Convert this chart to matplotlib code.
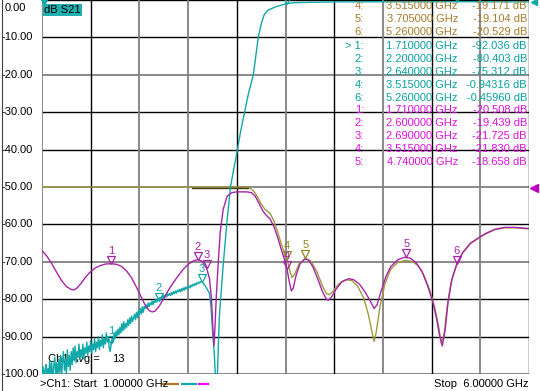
import numpy as np
import matplotlib
matplotlib.use('Agg')
import matplotlib.pyplot as plt
import matplotlib.transforms as mtransforms

plt.rcParams['font.family'] = ['Liberation Sans', 'DejaVu Sans']

W, H = 540, 391

# olive trace (displayed dB, -50 dB offset)
olive_f = [1.00, 2.54, 3.10, 3.13, 3.17, 3.21, 3.25, 3.29, 3.34, 3.38, 3.42, 3.46, 3.50, 3.515, 3.55,
           3.57, 3.60, 3.64, 3.705, 3.76, 3.82, 3.88, 3.92, 3.95, 3.99, 4.05, 4.12, 4.18, 4.24, 4.30,
           4.35, 4.39, 4.41, 4.43, 4.47, 4.52, 4.58, 4.65, 4.73, 4.80, 4.86, 4.92, 4.98, 5.03, 5.07,
           5.10, 5.13, 5.16, 5.20, 5.26, 5.32, 5.40, 5.47, 5.55, 5.65, 5.75, 5.85, 5.95, 6.00]
olive_db = [-50.0, -50.0, -50.0, -50.2, -51.0, -52.5, -54.5, -56.0, -57.0, -59.0, -62.0, -65.5, -68.5, -69.2, -73.0,
            -74.2, -73.0, -70.5, -69.1, -69.8, -72.5, -76.5, -78.5, -78.8, -77.8, -75.8, -74.8, -75.0, -76.5, -79.5,
            -84.0, -89.0, -91.3, -89.0, -82.0, -76.0, -72.0, -70.2, -69.6, -69.9, -71.0, -73.5, -77.5, -82.0, -87.0,
            -91.8, -89.0, -82.0, -75.5, -70.5, -67.6, -65.1, -63.9, -62.6, -61.4, -60.9, -60.9, -61.1, -61.2]

# dark segment under the olive trace
dark_f = [2.54, 3.12]
dark_db = [-50.3, -50.3]

# magenta trace (displayed dB, -50 dB offset)
mag_f = [1.00, 1.05, 1.10, 1.15, 1.20, 1.25, 1.30, 1.33, 1.36, 1.40, 1.45, 1.50, 1.55, 1.60, 1.65,
         1.71, 1.77, 1.82, 1.87, 1.92, 1.97, 2.02, 2.06, 2.10, 2.13, 2.16, 2.20, 2.25, 2.30, 2.35,
         2.40, 2.45, 2.50, 2.55, 2.60, 2.64, 2.69, 2.72, 2.74, 2.755, 2.765, 2.775, 2.79, 2.81, 2.83,
         2.86, 2.90, 2.95, 3.00, 3.10, 3.15, 3.19, 3.23, 3.27, 3.30, 3.34, 3.38, 3.42, 3.46, 3.50,
         3.515, 3.54, 3.56, 3.58, 3.61, 3.65, 3.70, 3.74, 3.78, 3.83, 3.88, 3.92, 3.94, 3.97, 4.02,
         4.08, 4.15, 4.20, 4.26, 4.32, 4.37, 4.41, 4.44, 4.48, 4.53, 4.58, 4.65, 4.72, 4.78, 4.84,
         4.90, 4.96, 5.01, 5.05, 5.08, 5.11, 5.14, 5.17, 5.21, 5.26, 5.32, 5.40, 5.47, 5.55, 5.65,
         5.75, 5.85, 5.95, 6.00]
mag_db = [-67.0, -68.5, -70.5, -72.8, -75.0, -76.6, -77.4, -77.5, -77.0, -75.8, -74.0, -72.6, -71.6, -71.0, -70.6,
          -70.5, -70.7, -71.3, -72.5, -74.3, -76.8, -79.5, -81.6, -83.0, -83.4, -83.2, -82.0, -79.8, -77.5, -75.5,
          -73.7, -72.0, -70.7, -69.8, -69.4, -69.8, -71.7, -74.5, -80.0, -88.0, -92.5, -88.0, -79.0, -70.0, -62.0,
          -56.0, -52.5, -51.5, -51.3, -51.3, -51.5, -52.5, -54.5, -56.5, -57.5, -58.5, -60.5, -63.5, -67.0, -70.3,
          -71.8, -75.5, -77.8, -77.0, -73.5, -70.5, -69.2, -69.6, -71.3, -74.5, -78.0, -80.0, -80.3, -79.5, -77.3,
          -75.3, -74.5, -74.8, -76.0, -78.2, -80.5, -82.5, -81.5, -78.0, -74.0, -71.3, -69.5, -68.8, -69.0, -70.2,
          -72.5, -76.5, -80.5, -85.0, -89.5, -92.5, -88.0, -80.5, -74.5, -70.5, -67.5, -65.0, -63.8, -62.5, -61.3,
          -60.8, -60.8, -61.0, -61.1]

# teal trace, noisy part sampled every 10 MHz from 1.00 to 2.64 GHz
teal_noise_start, teal_noise_stop = 1.00, 2.64
teal_noise_db = [
    -100.5, -98, -101, -99, -97.5, -102, -98.5, -100, -96.5, -101,
    -97, -103, -98, -95.5, -100, -97, -102, -96, -99.5, -95,
    -101, -97, -94, -99, -96, -100.5, -93.5, -98, -95, -99,
    -94, -97.5, -93, -96.5, -92.5, -97, -94, -95.5, -92, -96,
    -93.5, -95.5, -92, -96, -93, -94.5, -91.5, -95, -92.5, -94,
    -91, -94.5, -92, -93.5, -90.5, -94, -91.5, -93, -90, -93.5,
    -91, -92.5, -89.5, -93, -90.5, -92, -89, -91.5, -90, -93,
    -94, -92, -90.5, -91.5, -89, -90.5, -88.5, -90, -88, -89.5,
    -87.5, -89, -86.5, -88.5, -86, -88, -86.5, -87.5, -85.5, -87,
    -85, -86.5, -84.5, -86, -85, -84, -85.5, -83.5, -85, -83,
    -84, -82.5, -84, -82, -83.5, -82, -82.5, -81.5, -82.5, -81,
    -82, -81, -81.5, -80.5, -81.5, -80.5, -80.8, -80, -80.8, -79.8,
    -80.4, -79.5, -80.2, -79.2, -79.8, -79, -79.6, -78.8, -79.4, -78.6,
    -79, -78.5, -79, -78.2, -78.8, -78, -78.5, -77.8, -78.4, -77.6,
    -78, -77.4, -78, -77.2, -77.8, -77, -77.6, -76.8, -77.3, -76.7,
    -77, -76.5, -77, -76.2, -76.6, -76, -76.4, -75.8, -76.2, -75.6,
    -75.9, -75.4, -75.7, -75.3, -75.3]
teal_tail_f = [2.67, 2.70, 2.72, 2.735, 2.75, 2.77, 2.785, 2.80, 2.82, 2.86, 2.90, 2.935, 2.97, 3.00,
               3.04, 3.08, 3.12, 3.17, 3.20, 3.22, 3.25, 3.28, 3.32, 3.40, 3.505, 3.515, 3.60, 4.00,
               5.26, 6.00]
teal_tail_db = [-76.2, -77.5, -78.5, -82.0, -88.0, -95.0, -103.0, -101.0, -85.0, -71.0, -59.0, -50.0, -45.0, -41.0,
                -35.0, -30.0, -25.0, -20.0, -14.0, -10.0, -6.5, -4.0, -2.7, -1.8, -1.0, -0.94, -0.7, -0.5,
                -0.46, -0.5]

# markers (freq GHz, displayed dB, label)
olive_markers = [(3.515, -69.171, '4'), (3.705, -69.104, '5')]
olive_marker6 = [(5.26, -70.529, '6')]
teal_markers = [(1.71, -92.036, '1'), (2.20, -80.403, '2'), (2.64, -75.312, '3')]
teal_top_markers = [(3.515, -0.94316), (5.26, -0.45960)]
mag_markers = [(1.71, -70.508, '1'), (2.60, -69.439, '2'), (2.69, -71.725, '3'),
               (3.515, -71.830, '4'), (4.74, -68.658, '5')]

# marker table text
table_rows = [
    ('4:', '3.515000 GHz', '-19.171 dB', 'brown'),
    ('5:', '3.705000 GHz', '-19.104 dB', 'brown'),
    ('6:', '5.260000 GHz', '-20.529 dB', 'brown'),
    ('> 1:', '1.710000 GHz', '-92.036 dB', 'teal'),
    ('2:', '2.200000 GHz', '-80.403 dB', 'teal'),
    ('3:', '2.640000 GHz', '-75.312 dB', 'teal'),
    ('4:', '3.515000 GHz', '-0.94316 dB', 'teal'),
    ('6:', '5.260000 GHz', '-0.45960 dB', 'teal'),
    ('1:', '1.710000 GHz', '-20.508 dB', 'mag'),
    ('2:', '2.600000 GHz', '-19.439 dB', 'mag'),
    ('3:', '2.690000 GHz', '-21.725 dB', 'mag'),
    ('4:', '3.515000 GHz', '-21.830 dB', 'mag'),
    ('5:', '4.740000 GHz', '-18.658 dB', 'mag'),
]
table_y = [6, 19, 32, 46, 59, 72, 85, 98, 110, 123, 136, 149, 162]

y_ticks = [0, -10, -20, -30, -40, -50, -60, -70, -80, -90, -100]
x_grid = [1.0, 1.5, 2.0, 2.5, 3.0, 3.5, 4.0, 4.5, 5.0, 5.5, 6.0]

OLIVE = '#9c9c3c'
DARK = '#4a3c14'
TEAL = '#10a8a8'
MAG = '#a824a8'
BROWN_TXT = '#a87a2c'
TEAL_TXT = '#08a0a0'
MAG_TXT = '#e010e0'
txt_col = {'brown': BROWN_TXT, 'teal': TEAL_TXT, 'mag': MAG_TXT}


def px(x, y):
    return x / W, 1 - y / H


fig = plt.figure(figsize=(W / 100, H / 100), dpi=100)
fig.patch.set_facecolor('white')
ax = fig.add_axes([42 / W, 17 / H, 487 / W, 374 / H])
ax.set_xlim(1, 6)
ax.set_ylim(-100, 0)
for s in ax.spines.values():
    s.set_visible(False)
ax.set_xticks([])
ax.set_yticks([])

# grid
gray_h = [-20, -50, -70, -100]
for v in y_ticks:
    if v in gray_h:
        ax.axhline(v, color='#808080', lw=1.3, zorder=1)
    else:
        ax.axhline(v, color='black', lw=1.0, zorder=1)
gray_v = [1.0, 2.0, 2.5, 3.5, 4.5, 5.5]
for f in x_grid:
    if f in gray_v:
        ax.axvline(f, color='#808080', lw=1.3, zorder=1)
    else:
        ax.axvline(f, color='black', lw=1.0, zorder=1)

ax.text(1.06, -96.7, 'Ch1 Avg =', fontsize=8, color='black', zorder=2)
ax.text(1.72, -96.7, '13', fontsize=8, color='black', zorder=2)

# traces
teal_f = list(np.linspace(teal_noise_start, teal_noise_stop, len(teal_noise_db))) + teal_tail_f
teal_db = teal_noise_db + teal_tail_db
ax.plot(olive_f, olive_db, color=OLIVE, lw=1.0, zorder=3)
ax.plot(dark_f, dark_db, color=DARK, lw=1.0, zorder=3)
ax.plot(teal_f, teal_db, color=TEAL, lw=1.0, zorder=4)
ax.plot(mag_f, mag_db, color=MAG, lw=1.0, zorder=5)

# markers
tip = mtransforms.offset_copy(ax.transData, fig=fig, x=0, y=4, units='dots')
lab = mtransforms.offset_copy(ax.transData, fig=fig, x=0, y=13, units='dots')


def draw_markers(markers, col):
    for f, v, t in markers:
        ax.plot([f], [v], marker='v', markersize=6, markerfacecolor='none',
                markeredgecolor=col, markeredgewidth=0.9, transform=tip, zorder=6)
        ax.text(f, v, t, color=col, fontsize=8, ha='center', va='center',
                transform=lab, zorder=6)


draw_markers(olive_markers, '#8a8a20')
draw_markers(olive_marker6, MAG)
draw_markers(teal_markers, TEAL)
draw_markers(mag_markers, MAG)
# teal markers 4 and 6 sit at the top edge, only their triangles peek in
for f, v in teal_top_markers:
    ax.plot([f], [v], marker='v', markersize=6, markerfacecolor='none',
            markeredgecolor=TEAL, markeredgewidth=0.9, transform=tip, zorder=6)

# y labels
for v in y_ticks:
    yp = v / -100 * 374
    label = '%.2f' % v
    if v == 0:
        fig.text(*px(5, 8), label, fontsize=8, ha='left', va='center')
    else:
        fig.text(*px(1, yp), label, fontsize=8, ha='left', va='center')

# trace label box
fig.text(*px(44, 10), 'dB S21', fontsize=8, ha='left', va='center', color='black',
         bbox=dict(boxstyle='square,pad=0.1', facecolor='#20b0b0', edgecolor='none'))

# marker table
for (idx, fr, val, c), yy in zip(table_rows, table_y):
    col = txt_col[c]
    fig.text(*px(364, yy), idx, fontsize=8, ha='right', va='center', color=col)
    fig.text(*px(458, yy), fr, fontsize=8, ha='right', va='center', color=col)
    fig.text(*px(527, yy), val, fontsize=8, ha='right', va='center', color=col)

# reference position arrows
fig.lines.append(plt.Line2D([534 / W], [1 - 188 / H], marker='<', markersize=6,
                            color='#c000c0', transform=fig.transFigure))
fig.lines.append(plt.Line2D([534 / W], [1 - 2 / H], marker='<', markersize=5,
                            color=TEAL, transform=fig.transFigure))
fig.lines.append(plt.Line2D([44 / W], [1 - 2 / H], marker='v', markersize=4,
                            color=TEAL, transform=fig.transFigure))
fig.lines.append(plt.Line2D([1.5 / W, 1.5 / W], [0, 1], color='#404040', lw=0.8,
                            transform=fig.transFigure))

# status line
fig.text(*px(40, 384), '>Ch1: Start  1.00000 GHz', fontsize=8, ha='left', va='center')
for x0, x1, c in [(163, 178, '#a87a2c'), (182, 196, TEAL), (199, 208, '#ff00ff')]:
    fig.lines.append(plt.Line2D([x0 / W, x1 / W], [1 - 384 / H, 1 - 384 / H], color=c,
                                lw=1.6, transform=fig.transFigure))
fig.text(*px(528, 384), 'Stop  6.00000 GHz', fontsize=8, ha='right', va='center')

fig.savefig('out.png', dpi=100)
